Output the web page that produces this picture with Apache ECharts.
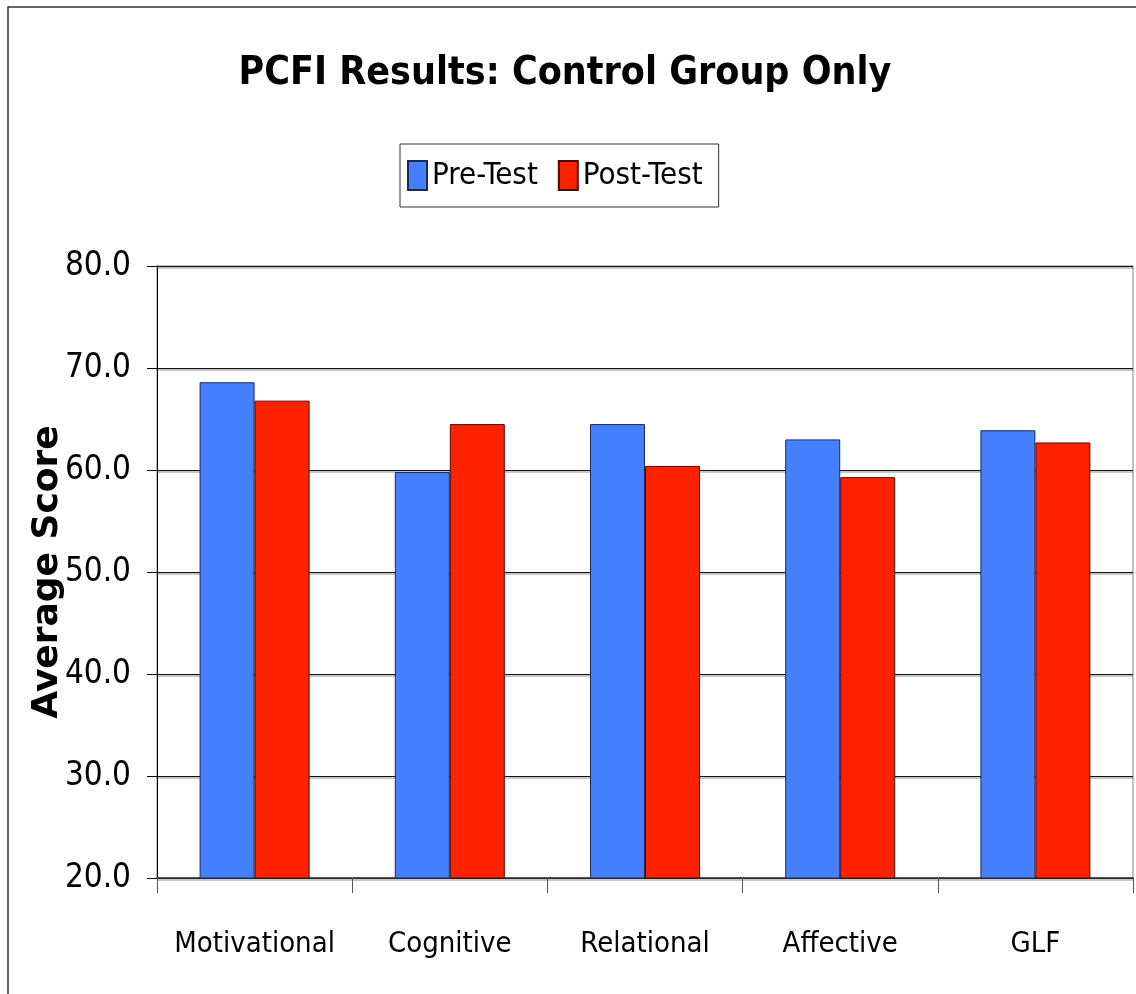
<!DOCTYPE html>
<html>
<head>
<meta charset="utf-8">
<script src="https://cdn.jsdelivr.net/npm/echarts@6/dist/echarts.min.js"></script>
<style>
html,body{margin:0;padding:0;background:#fff;}
#c{width:1136px;height:994px;}
</style>
</head>
<body>
<div id="c"></div>
<script>
var categories = ["Motivational", "Cognitive", "Relational", "Affective", "GLF"];
var preTest = [68.6, 59.8, 64.5, 63.0, 63.9];
var postTest = [66.8, 64.5, 60.4, 59.3, 62.7];
var yTicks = { min: 20, max: 80, interval: 10 };
var seriesNames = ["Pre-Test", "Post-Test"];

var narrow = '"DejaVu Sans Condensed", "Liberation Sans Narrow", "DejaVu Sans", sans-serif';
var chart = echarts.init(document.getElementById('c'));
chart.setOption({
  backgroundColor: '#ffffff',
  animation: false,
  title: {
    text: 'PCFI Results: Control Group Only',
    left: 560,
    textAlign: 'center',
    top: 49,
    textStyle: { fontFamily: narrow, fontWeight: 'bold', fontSize: 39, color: '#000' }
  },
  legend: {
    data: seriesNames,
    orient: 'horizontal',
    left: 400,
    top: 144,
    padding: [16, 16, 16, 7],
    itemGap: 20,
    itemWidth: 19,
    itemHeight: 29,
    icon: 'rect',
    borderColor: '#333',
    borderWidth: 1,
    textStyle: { fontFamily: narrow, fontSize: 31, color: '#000' }
  },
  graphic: [{
    type: 'rect',
    shape: { x: 8, y: 7, width: 1140, height: 1000 },
    style: { fill: 'none', stroke: '#333', lineWidth: 1.5 },
    silent: true
  }],
  grid: {
    left: 157, right: 3, top: 266, bottom: 116,
    show: true, borderColor: '#808080', borderWidth: 1
  },
  xAxis: {
    type: 'category',
    data: categories,
    axisLine: { lineStyle: { color: '#333', width: 1.5 } },
    axisTick: { show: true, length: 15, lineStyle: { color: '#555' } },
    axisLabel: { fontFamily: narrow, fontSize: 29, color: '#000', margin: 52, interval: 0 }
  },
  yAxis: {
    type: 'value',
    min: yTicks.min, max: yTicks.max, interval: yTicks.interval,
    name: 'Average Score',
    nameLocation: 'middle',
    nameGap: 91,
    nameMoveOverlap: false,
    nameTextStyle: { fontFamily: '"DejaVu Sans", Verdana, sans-serif', fontWeight: 'bold', fontSize: 36, color: '#000' },
    axisLine: { show: true, lineStyle: { color: '#000', width: 1 } },
    axisTick: { show: true, length: 10, lineStyle: { color: '#000' } },
    axisLabel: {
      fontFamily: narrow, fontSize: 33, color: '#000', margin: 26,
      formatter: function (v) { return v.toFixed(1); }
    },
    splitLine: { show: true, lineStyle: { color: '#111', width: 1, shadowColor: 'rgba(0,0,0,0.45)', shadowOffsetY: 1.5, shadowBlur: 0 } }
  },
  series: [{
    name: seriesNames[0],
    type: 'bar',
    data: preTest,
    barWidth: 55,
    barGap: '0%',
    itemStyle: { color: '#4480FF', borderColor: '#1a2a55', borderWidth: 1 }
  }, {
    name: seriesNames[1],
    type: 'bar',
    data: postTest,
    barWidth: 55,
    barGap: '0%',
    itemStyle: { color: '#FF2200', borderColor: '#4a0a00', borderWidth: 1 }
  }]
});
</script>
</body>
</html>
